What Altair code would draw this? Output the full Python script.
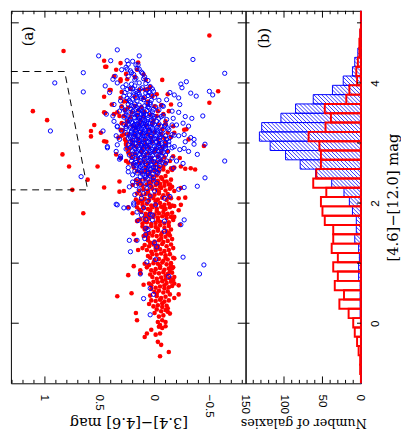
import altair as alt
import pandas as pd

# ---------------- data ----------------
# panel (a): ([3.4]-[4.6], [4.6]-[12.0]) points
blue_core = [
(0.20,4.36),(0.14,4.45),(0.24,4.31),
(0.16,4.24),(0.22,4.20),(0.11,4.16),(0.19,4.14),(0.26,4.26),
(0.09,4.10),(0.17,4.08),(0.24,4.11),(0.14,4.00),(0.06,4.04),(0.21,3.98),
(0.04,3.94),(0.11,3.92),(0.18,3.95),(0.25,3.89),(0.01,3.86),(0.15,3.84),(0.22,3.91),(0.08,3.83),(0.29,3.93),
(0.06,3.79),(0.13,3.77),(0.19,3.80),(0.25,3.74),(0.00,3.76),(0.10,3.72),(0.16,3.70),(0.22,3.68),(0.04,3.67),(0.28,3.78),(0.14,3.81),(-0.04,3.71),(0.20,3.73),(0.07,3.66),(0.31,3.70),
(0.04,3.64),(0.09,3.62),(0.14,3.63),(0.19,3.61),(0.24,3.64),(-0.01,3.60),(0.12,3.58),(0.17,3.56),(0.22,3.57),(0.07,3.54),(0.02,3.52),(0.26,3.52),(0.15,3.51),(0.10,3.50),(0.20,3.53),(-0.04,3.55),(0.30,3.59),(0.05,3.58),(0.13,3.55),(0.18,3.65),(-0.07,3.62),
(0.04,3.49),(0.08,3.47),(0.12,3.48),(0.16,3.46),(0.20,3.49),(0.24,3.45),(0.00,3.44),(0.06,3.42),(0.10,3.43),(0.14,3.41),(0.18,3.42),(0.22,3.40),(-0.04,3.41),(0.28,3.43),(0.03,3.38),(0.09,3.37),(0.13,3.36),(0.17,3.37),(0.21,3.35),(-0.02,3.36),(0.25,3.38),(-0.08,3.46),(0.07,3.35),(0.15,3.45),(0.11,3.39),(-0.11,3.39),
(0.04,3.33),(0.08,3.31),(0.12,3.32),(0.16,3.30),(0.20,3.33),(0.24,3.29),(0.00,3.30),(-0.04,3.32),(0.06,3.27),(0.10,3.26),(0.14,3.28),(0.18,3.25),(0.22,3.26),(0.02,3.24),(-0.02,3.26),(-0.06,3.28),(0.26,3.24),(0.05,3.21),(0.09,3.22),(0.13,3.20),(0.17,3.21),(0.21,3.20),(0.01,3.20),(-0.08,3.22),(-0.12,3.25),(0.28,3.31),(0.11,3.29),(0.15,3.24),(-0.16,3.30),(0.19,3.29),(0.07,3.28),(-0.03,3.21),
(0.05,3.18),(0.09,3.17),(0.13,3.18),(0.17,3.16),(0.21,3.18),(0.25,3.15),(0.01,3.16),(-0.03,3.18),(-0.07,3.15),(0.07,3.13),(0.11,3.12),(0.15,3.13),(0.19,3.11),(0.23,3.12),(0.03,3.11),(-0.01,3.12),(-0.05,3.10),(-0.10,3.12),(0.04,3.07),(0.08,3.06),(0.12,3.08),(0.16,3.06),(0.20,3.05),(0.00,3.07),(-0.04,3.05),(-0.08,3.07),(-0.14,3.09),(0.24,3.08),(0.10,3.15),(0.14,3.04),(0.02,3.04),(-0.18,3.13),(0.18,3.14),
(0.06,3.02),(0.10,3.00),(0.14,3.01),(0.18,2.99),(0.22,3.02),(0.02,3.00),(-0.02,3.02),(-0.06,2.99),(-0.10,3.01),(0.04,2.96),(0.08,2.95),(0.12,2.96),(0.16,2.94),(0.20,2.95),(0.00,2.94),(-0.04,2.96),(-0.08,2.93),(-0.13,2.97),(0.24,2.97),(0.06,2.90),(0.10,2.90),(0.14,2.89),(0.02,2.89),(-0.02,2.91),(0.18,2.91),(-0.16,2.92),(0.26,2.90),(-0.06,2.90),(0.09,2.98),
(0.04,2.87),(0.08,2.85),(0.12,2.86),(0.16,2.84),(0.20,2.87),(0.00,2.85),(-0.04,2.87),(-0.08,2.84),(-0.12,2.86),(0.06,2.80),(0.10,2.79),(0.14,2.81),(0.18,2.78),(0.02,2.79),(-0.02,2.81),(-0.06,2.78),(-0.10,2.80),(0.23,2.80),(0.04,2.74),(0.09,2.73),(0.13,2.75),(0.00,2.74),(-0.05,2.73),(0.17,2.74),
(0.05,2.71),(0.09,2.69),(0.13,2.70),(0.17,2.68),(0.01,2.69),(-0.03,2.71),(-0.07,2.68),(0.21,2.70),(0.07,2.64),(0.11,2.63),(0.15,2.65),(0.03,2.63),(-0.01,2.65),(-0.05,2.62),(0.19,2.62),(-0.10,2.66),(0.04,2.58),(0.09,2.59),(0.14,2.58),(-0.01,2.59),
(0.04,2.56),(0.09,2.54),(0.14,2.55),(0.18,2.53),(0.00,2.54),(-0.04,2.56),(0.06,2.49),(0.11,2.48),(0.16,2.50),(0.02,2.48),(-0.03,2.50),(0.20,2.47),(0.08,2.43),(0.13,2.44),(0.01,2.42),
(0.06,2.40),(0.11,2.38),(0.16,2.39),(0.01,2.37),(0.20,2.35),(0.08,2.32),(0.13,2.31),(-0.02,2.33),(0.04,2.28),(0.17,2.29),
(0.07,2.24),(0.14,2.22),(0.00,2.20),(0.10,2.16),(0.18,2.14),(0.04,2.12),
(0.12,2.08),(0.06,2.03),(0.19,2.00),(-0.01,1.97),
(0.10,1.92),(0.16,1.85),(0.04,1.81),
]
blue_core_fill = [
(0.07,3.88),(0.17,3.86),(0.12,3.74),(0.03,3.71),(0.23,3.71),(0.19,3.84),
(0.12,4.18),(0.18,4.05),(0.08,3.99),(0.21,4.17),(0.13,3.90),(0.02,3.90),(0.27,3.84),(0.09,3.76),
(0.17,3.75),(0.23,3.80),(0.05,3.84),(0.15,4.30),(0.10,4.07),(0.26,3.97),(0.03,3.80),(0.20,3.91),
(0.06,3.60),(0.16,3.59),(0.11,3.53),(0.21,3.62),(0.01,3.56),(0.27,3.55),
(0.02,3.46),(0.10,3.46),(0.18,3.47),(0.26,3.47),(0.06,3.39),(0.15,3.38),(0.23,3.37),(-0.06,3.44),(0.01,3.41),
(0.02,3.32),(0.10,3.33),(0.18,3.31),(0.26,3.27),(0.04,3.26),(0.12,3.24),(0.20,3.23),(-0.02,3.22),(0.08,3.20),(-0.10,3.30),(0.16,3.27),
(0.03,3.14),(0.11,3.16),(0.19,3.16),(-0.05,3.14),(0.06,3.09),(0.14,3.10),(0.22,3.09),(-0.02,3.08),(0.10,3.06),(0.18,3.05),(-0.11,3.06),
(0.04,3.00),(0.12,2.99),(0.20,3.00),(-0.04,2.99),(0.06,2.93),(0.14,2.92),(0.22,2.93),(-0.02,2.94),(-0.10,2.95),(0.10,2.93),
(0.02,2.86),(0.10,2.83),(0.18,2.85),(-0.06,2.86),(0.04,2.78),(0.12,2.77),(0.20,2.76),(-0.04,2.80),(0.07,2.75),
(0.03,2.70),(0.11,2.67),(0.19,2.66),(-0.05,2.69),(0.05,2.61),(0.13,2.61),(0.01,2.60),(0.17,2.63),
(0.06,2.52),(0.12,2.53),(-0.02,2.52),(0.09,2.46),(0.04,2.45),
]
blue_lower = [
(0.15,1.71),(0.08,1.58),(0.23,1.38),(0.22,1.19),(0.16,1.38),(0.09,1.41),(-0.02,1.27),(-0.09,1.53),
(-0.24,1.64),(-0.27,1.72),(-0.26,1.10),(-0.45,0.97),(-0.41,0.82),(0.07,1.02),(-0.01,1.06),(0.13,0.82),
(-0.13,0.78),(0.04,0.58),(0.01,0.48),(0.10,0.41),(0.04,0.14),(0.08,1.48),(0.23,2.27),(0.35,1.98),
(0.28,1.92),(0.24,1.92),(0.19,1.97),(0.08,1.73),(0.02,1.72),(-0.09,1.70),(0.00,1.34),(-0.39,2.28),
(-0.46,2.42),(-0.22,2.23),(-0.14,2.11),(-0.09,2.08),(0.02,1.80),(0.12,1.80),(0.06,1.56),(-0.17,2.58),
]
blue_outer = [
(-0.24,3.98),(-0.29,4.02),(-0.25,3.92),(-0.33,3.83),(-0.38,3.78),(-0.50,3.86),(-0.53,3.80),
(-0.14,3.84),(-0.18,3.80),(-0.22,3.75),(-0.23,3.64),(-0.11,3.72),(-0.08,3.61),(-0.16,3.53),(-0.22,3.51),
(-0.28,3.44),(-0.34,3.41),(-0.44,3.45),(-0.17,3.41),(-0.20,3.30),(-0.26,3.33),(-0.31,3.28),(-0.09,3.28),
(-0.13,3.22),(-0.16,3.14),(-0.22,3.12),(-0.27,3.14),(-0.33,3.09),(-0.36,2.98),(-0.46,2.98),(-0.13,3.02),
(-0.18,2.94),(-0.23,2.89),(-0.31,2.86),(-0.39,2.81),(-0.16,2.75),(-0.20,2.70),(-0.26,2.66),(-0.10,2.91),
(-0.11,2.70),(-0.35,4.39),(-0.64,4.16),(-0.64,2.70),(-0.27,2.26),(-0.36,3.06),(-0.28,3.02),(-0.27,2.91),
(0.38,4.06),(0.34,4.00),(0.45,3.95),(0.41,3.84),(0.37,3.64),(0.32,3.53),(0.44,3.48),(0.34,3.28),
(0.30,3.20),(0.47,3.20),(0.43,2.94),(0.35,2.86),(0.31,2.75),(0.36,4.11),(0.38,3.45),(0.37,3.36),
(0.34,3.27),(0.35,3.12),(0.32,3.06),(0.34,2.97),(0.43,2.92),(0.31,2.78),(0.32,2.73),(0.24,2.59),
(0.24,2.52),(0.34,1.97),
(0.34,4.55),(0.51,4.45),(0.40,4.37),(0.25,4.37),(0.30,4.22),(0.25,4.23),(0.17,4.30),(0.14,4.23),
(0.65,4.17),(0.91,4.00),(0.65,3.85),(0.95,3.20),(0.67,2.44),
]
red_high = [
(-0.16,2.55),(-0.12,2.52),(-0.08,2.56),(-0.04,2.53),(0.00,2.55),(0.04,2.52),(0.08,2.54),(0.12,2.51),(0.16,2.53),(-0.10,2.45),(-0.06,2.43),(-0.02,2.46),(0.02,2.44),(0.06,2.47),
(-0.14,2.70),(-0.10,2.67),(-0.06,2.71),(-0.02,2.68),(0.02,2.70),(0.06,2.66),(0.10,2.69),(0.14,2.67),(0.20,2.65),(-0.08,2.61),(-0.04,2.60),(0.00,2.62),(0.08,2.60),
(-0.12,2.86),(-0.06,2.84),(0.00,2.86),(0.06,2.83),(0.12,2.85),(0.18,2.82),(0.24,2.84),(-0.09,2.76),(-0.03,2.78),(0.03,2.75),(0.09,2.77),(0.15,2.74),(0.21,2.76),
(-0.10,3.01),(-0.04,2.99),(0.02,3.02),(0.08,2.98),(0.14,3.00),(0.20,2.97),(0.26,2.99),(-0.07,2.92),(-0.01,2.90),(0.05,2.93),(0.11,2.91),(0.17,2.94),(0.23,2.90),
(-0.12,3.17),(-0.06,3.15),(0.00,3.18),(0.06,3.14),(0.12,3.16),(0.18,3.13),(0.24,3.15),(0.30,3.12),(-0.09,3.08),(-0.03,3.06),(0.03,3.09),(0.09,3.05),(0.15,3.07),(0.21,3.04),(0.27,3.06),(-0.15,3.10),(0.33,3.09),
(-0.10,3.32),(-0.04,3.30),(0.02,3.33),(0.08,3.29),(0.14,3.31),(0.20,3.28),(0.26,3.30),(-0.07,3.23),(0.05,3.22),(0.17,3.24),(0.29,3.21),
(-0.08,3.48),(-0.02,3.45),(0.04,3.47),(0.10,3.44),(0.16,3.46),(0.22,3.43),(0.28,3.45),(0.01,3.37),(0.13,3.38),(0.25,3.36),
(-0.06,3.63),(0.00,3.61),(0.06,3.64),(0.12,3.60),(0.18,3.62),(0.24,3.59),(0.30,3.61),(-0.03,3.53),(0.09,3.52),(0.15,3.54),(0.21,3.51),(0.27,3.55),
(0.02,3.78),(0.10,3.75),(0.18,3.77),(0.26,3.70),(0.06,3.69),
(0.04,3.93),(0.14,3.88),(0.22,3.90),(0.30,3.85),
(0.08,4.05),(0.18,4.10),(0.26,4.15),
]
red_low = [
(-0.15,2.39),(-0.11,2.36),(-0.07,2.40),(-0.03,2.37),(0.01,2.39),(0.05,2.36),(0.09,2.40),(0.13,2.37),(0.17,2.38),(-0.13,2.31),(-0.09,2.29),(-0.05,2.32),(-0.01,2.30),(0.03,2.28),(0.07,2.31),(0.11,2.29),(0.15,2.32),(-0.03,2.34),(0.05,2.33),(0.20,2.30),
(-0.14,2.24),(-0.10,2.21),(-0.06,2.25),(-0.02,2.22),(0.02,2.24),(0.06,2.21),(0.10,2.23),(0.14,2.20),(-0.12,2.15),(-0.08,2.13),(-0.04,2.16),(0.00,2.14),(0.04,2.12),(0.08,2.15),(0.12,2.13),
(-0.15,2.08),(-0.11,2.05),(-0.07,2.09),(-0.03,2.06),(0.01,2.08),(0.05,2.05),(0.09,2.07),(0.13,2.04),(0.17,2.06),(-0.13,1.99),(-0.09,1.97),(-0.05,2.00),(-0.01,1.98),(0.03,1.96),(0.07,1.99),(0.11,1.97),(0.15,2.00),
(-0.14,1.93),(-0.10,1.90),(-0.06,1.94),(-0.02,1.91),(0.02,1.93),(0.06,1.90),(0.10,1.92),(0.14,1.89),(-0.16,1.84),(-0.12,1.82),(-0.08,1.85),(-0.04,1.83),(0.00,1.81),(0.04,1.84),(0.08,1.82),(0.12,1.85),(-0.02,1.87),
(-0.15,1.77),(-0.11,1.75),(-0.07,1.78),(-0.03,1.76),(0.01,1.77),(0.05,1.74),(0.09,1.76),(0.13,1.73),(-0.13,1.68),(-0.09,1.66),(-0.05,1.69),(-0.01,1.67),(0.03,1.65),(0.07,1.68),(0.11,1.66),(0.16,1.70),
(-0.13,1.62),(-0.09,1.59),(-0.05,1.63),(-0.01,1.60),(0.03,1.62),(0.07,1.59),(0.11,1.61),(-0.11,1.53),(-0.07,1.51),(-0.03,1.54),(0.01,1.52),(0.05,1.50),
(-0.14,1.46),(-0.10,1.44),(-0.06,1.47),(-0.02,1.45),(0.02,1.46),(0.06,1.43),(0.10,1.45),(-0.12,1.37),(-0.08,1.35),(-0.04,1.38),(0.00,1.36),(0.04,1.34),
(-0.15,1.31),(-0.11,1.28),(-0.07,1.32),(-0.03,1.29),(0.01,1.31),(0.05,1.28),(0.09,1.30),(-0.13,1.22),(-0.09,1.20),(-0.05,1.23),(-0.01,1.21),(0.03,1.19),(0.07,1.22),
(-0.14,1.15),(-0.10,1.13),(-0.06,1.16),(-0.02,1.14),(0.02,1.15),(0.06,1.12),(-0.12,1.06),(-0.08,1.04),(-0.04,1.07),(0.00,1.05),
(-0.15,1.00),(-0.11,0.98),(-0.07,1.01),(-0.03,0.99),(0.01,1.00),(0.05,0.97),(0.09,0.99),(-0.13,0.91),(-0.09,0.89),(-0.05,0.92),(-0.01,0.90),(0.03,0.88),
(-0.16,0.84),(-0.12,0.82),(-0.08,0.85),(-0.04,0.83),(0.00,0.84),(0.04,0.81),(-0.14,0.75),(-0.10,0.73),(-0.06,0.76),(-0.02,0.74),
(-0.15,0.69),(-0.11,0.67),(-0.07,0.70),(-0.03,0.68),(0.01,0.69),(0.05,0.66),(-0.13,0.60),(-0.09,0.58),(-0.05,0.61),(-0.01,0.59),(0.03,0.57),
(-0.12,0.53),(-0.08,0.51),(-0.04,0.54),(0.00,0.52),(-0.10,0.44),(-0.06,0.42),(-0.02,0.45),
(-0.13,0.38),(-0.09,0.36),(-0.05,0.39),(-0.01,0.37),(0.03,0.38),(-0.11,0.29),(-0.07,0.27),(-0.03,0.30),(0.01,0.28),
(-0.10,0.22),(-0.06,0.20),(-0.02,0.23),(-0.08,0.13),(-0.04,0.11),
(-0.07,0.05),(-0.03,0.02),(-0.05,-0.03),
]
red_low_fill = [
(-0.09,2.35),(0.03,2.35),(0.13,2.33),(-0.16,2.27),(-0.04,2.19),(0.06,2.18),(0.16,2.16),(-0.13,2.10),
(-0.01,2.03),(0.11,2.02),(-0.16,1.96),(-0.08,1.92),(0.04,1.88),(0.16,1.93),(-0.10,1.80),(0.06,1.79),
(-0.17,1.72),(-0.03,1.72),(0.09,1.70),(-0.15,1.56),(-0.03,1.57),(0.09,1.56),(-0.12,1.49),(0.08,1.48),
(-0.16,1.40),(-0.06,1.41),(0.06,1.38),(-0.01,1.25),(0.11,1.25),(-0.17,1.25),(-0.10,1.09),(0.04,1.09),
(-0.18,1.08),(-0.05,0.95),(0.07,0.93),(-0.17,0.93),(-0.10,0.79),(0.02,0.77),(-0.18,0.77),(-0.09,0.63),
(0.03,0.63),(-0.16,0.62),(-0.14,0.48),(-0.02,0.49),(0.04,0.46),(-0.07,0.33),(0.05,0.32),(-0.12,0.19),
(0.00,0.17),
]
red_outer = [
(-0.50,4.79),(0.83,4.53),(0.46,4.37),(0.45,4.27),(0.31,4.33),(0.35,4.22),(0.15,4.34),(-0.07,4.05),
(0.40,3.88),(0.46,3.77),(-0.58,3.86),(-0.50,3.67),(1.11,3.53),(0.98,3.38),(0.55,3.30),(0.58,3.20),
(0.58,3.11),(0.46,3.03),(0.84,2.81),(0.78,2.61),(0.52,2.61),(0.61,2.39),(0.75,2.22),(0.65,1.83),
(0.46,3.51),(0.34,3.51),(-0.18,2.59),(-0.24,2.61),(-0.28,2.57),(-0.33,2.58),(-0.37,2.56),(-0.45,2.95),
(0.32,2.36),(0.46,2.26),(0.32,2.19),(0.28,2.20),(0.24,1.93),(0.28,3.69),(0.30,3.33),(0.31,3.22),
(0.26,2.97),(0.31,2.75),(0.35,2.81),(0.26,2.70),(0.37,4.11),(0.31,4.03),(0.39,3.64),(-0.12,3.81),
(-0.15,3.64),(-0.02,3.81),(-0.10,3.36),(-0.29,3.23),(-0.22,1.88),(-0.24,1.97),(-0.18,2.20),(-0.14,2.31),
(-0.09,1.92),(-0.03,2.34),
(0.41,3.88),(0.31,3.75),(0.31,4.06),(0.44,4.27),(0.25,4.06),(0.09,3.89),(0.06,3.90),(0.10,4.14),
(0.16,4.22),(0.45,3.50),(0.37,3.48),(0.32,3.45),(0.49,3.17),(0.44,3.02),(0.28,3.14),(0.26,3.02),
(0.25,2.91),(0.22,2.81),(-0.13,3.53),(-0.17,3.28),(-0.18,3.17),(-0.27,3.22),(-0.31,3.06),(-0.10,2.98),
(-0.17,2.78),(-0.23,2.75),(0.24,2.67),(0.19,2.59),
(0.20,1.83),(0.19,1.48),(0.17,1.38),(0.15,1.22),(0.19,0.95),(-0.24,2.25),(-0.22,2.08),(-0.28,2.09),
(-0.18,1.95),(-0.18,1.77),(-0.23,1.64),(-0.13,1.50),(-0.17,1.09),(-0.16,0.91),(-0.15,2.58),(-0.05,2.27),
(0.24,0.80),(0.34,0.45),(0.21,0.50),(0.17,0.17),(0.16,0.05),(0.10,0.64),(0.09,-0.23),(0.07,-0.17),
(0.03,-0.11),(-0.01,-0.19),(-0.05,-0.17),(-0.03,-0.31),(-0.06,-0.36),(-0.05,-0.55),(-0.13,-0.48),(-0.10,0.02),
(-0.10,-0.05),(-0.04,-0.06),(-0.07,-0.08),(-0.14,0.16),(-0.12,0.25),(-0.18,0.42),(-0.22,0.63),(-0.17,0.72),
(-0.14,0.86),(-0.15,0.95),(0.13,0.88),(0.13,0.83),(-0.18,0.66),(-0.22,0.48),
]

# selection box (dashed)
cut_x = [1.31, 0.82, 0.61, 1.31]
cut_y = [4.19, 4.19, 2.22, 2.22]

# panel (b): histograms of [4.6]-[12.0]
bin_lo = [-1.0, -0.845, -0.69, -0.535, -0.38, -0.225, -0.07, 0.085, 0.24, 0.395,
          0.55, 0.705, 0.86, 1.015, 1.17, 1.325, 1.48, 1.635, 1.79, 1.945,
          2.1, 2.255, 2.41, 2.565, 2.72, 2.875, 3.03, 3.185, 3.34, 3.495,
          3.65, 3.805, 3.96, 4.115, 4.27, 4.425, 4.58, 4.735, 4.89, 5.045]
bin_width = 0.155
red_counts = [0, 1, 1, 3, 5, 8, 10, 16, 28, 22,
              34, 30, 36, 30, 38, 36, 36, 47, 50, 52,
              45, 62, 58, 52, 52, 54, 68, 46, 39, 47,
              19, 15, 5, 6, 4, 2, 2, 1, 0, 0]
blue_counts = [0, 0, 0, 0, 0, 0, 0, 1, 1, 1,
               1, 3, 3, 2, 3, 8, 6, 6, 11, 15,
               22, 38, 59, 79, 98, 118, 132, 129, 104, 85,
               62, 37, 23, 11, 8, 4, 1, 1, 0, 0]

# axis tick labels
xa_labels = [1, 0.5, 0, -0.5]
xb_labels = [0, 50, 100, 150]
y_labels = [0, 2, 4]

# ---------------- layout ----------------
X_DOM = [-0.83, 1.31]
Y_DOM = [-1.0, 5.2]
N_DOM = [0, 150]
WA, WB, H = 240, 118, 381
BLUE = '#0000ff'
RED = '#ff0000'
SERIF = 'DejaVu Serif'
SANS = 'Liberation Sans'

xa = alt.Scale(domain=X_DOM, reverse=True, nice=False, zero=False)
ya = alt.Scale(domain=Y_DOM, nice=False, zero=False)
xb = alt.Scale(domain=N_DOM, reverse=True, nice=False, zero=False)

def bottom_axis(values, fmt, title, tsize):
    return alt.Axis(values=values, format=fmt, labelAngle=90, labelAlign='left',
                    labelBaseline='middle', labelFont=SANS, labelFontSize=12,
                    labelColor='black', labelPadding=11, labelFlush=False,
                    labelOverlap=False, ticks=False, tickSize=0, domain=False,
                    grid=False, title=title, titleFont=SERIF, titleFontSize=tsize,
                    titleFontWeight='normal', titleColor='black', titleAngle=180,
                    titleBaseline='middle', titleAlign='center', titleY=40)

# one axis object per channel, shared by every layer so that they merge cleanly
ax_xa = bottom_axis(xa_labels, '.1~f', '[3.4]−[4.6] mag', 15)
ax_xb = bottom_axis(xb_labels, 'd', 'Number of galaxies', 13)
ax_yb = alt.Axis(
    orient='right', values=y_labels, format='d', labelAngle=270, labelAlign='center',
    labelBaseline='top', labelFont=SANS, labelFontSize=12, labelColor='black',
    labelPadding=9, labelFlush=False, ticks=False, tickSize=0, domain=False, grid=False,
    title='[4.6]−[12.0] mag', titleFont=SERIF, titleFontSize=15, titleFontWeight='normal',
    titleColor='black', titleAngle=270, titleBaseline='top', titleAlign='center',
    titleX=25, titleY=H / 2)

blue_df = pd.DataFrame(blue_core + blue_core_fill + blue_lower + blue_outer, columns=['c1', 'c2'])
red_df = pd.DataFrame(red_high + red_low + red_low_fill + red_outer, columns=['c1', 'c2'])
cut_df = pd.DataFrame({'c1': cut_x, 'c2': cut_y, 'i': list(range(len(cut_x)))})

hist_df = pd.DataFrame({'lo': bin_lo, 'red': red_counts, 'blue': blue_counts})
hist_df['hi'] = hist_df['lo'] + bin_width
hist_df['zero'] = 0

def x_ticks(values, length, scale, axis):
    df = pd.DataFrame({'v': values})
    base = alt.Chart(df).mark_rule(color='black', strokeWidth=1)
    enc = alt.X('v:Q', scale=scale, axis=axis)
    return [base.encode(x=enc, y=alt.value(H), y2=alt.value(H - length)),
            base.encode(x=enc, y=alt.value(0), y2=alt.value(length))]

def y_ticks(values, length, width, yaxis):
    df = pd.DataFrame({'v': values})
    base = alt.Chart(df).mark_rule(color='black', strokeWidth=1)
    enc = alt.Y('v:Q', scale=ya, axis=yaxis)
    return [base.encode(y=enc, x=alt.value(0), x2=alt.value(length)),
            base.encode(y=enc, x=alt.value(width), x2=alt.value(width - length))]

# ---------------- panel (a) ----------------
red_layer = alt.Chart(red_df).mark_circle(color=RED, size=22, opacity=1).encode(
    x=alt.X('c1:Q', scale=xa, axis=ax_xa),
    y=alt.Y('c2:Q', scale=ya, axis=None),
)
blue_layer = alt.Chart(blue_df).mark_point(shape='circle', filled=False, color=BLUE,
                                           size=19, strokeWidth=1, opacity=1).encode(
    x=alt.X('c1:Q', scale=xa, axis=ax_xa),
    y=alt.Y('c2:Q', scale=ya, axis=None),
)
cut_layer = alt.Chart(cut_df).mark_line(color='black', strokeWidth=1, strokeDash=[7, 5]).encode(
    x=alt.X('c1:Q', scale=xa, axis=ax_xa),
    y=alt.Y('c2:Q', scale=ya, axis=None),
    order='i:O',
)
lab_a = alt.Chart(pd.DataFrame({'t': ['(a)']})).mark_text(
    angle=270, font=SERIF, fontSize=15, color='black').encode(
    text='t:N', x=alt.value(18), y=alt.value(26))

minor_a = [round(i / 10, 1) for i in range(-8, 14) if i % 5 != 0]
major_a = [-0.5, 0.0, 0.5, 1.0]
int_y = [0, 1, 2, 3, 4, 5]

panel_a = alt.layer(
    red_layer, blue_layer, cut_layer, lab_a,
    *x_ticks(minor_a, 3.5, xa, ax_xa), *x_ticks(major_a, 7, xa, ax_xa),
    *y_ticks(int_y, 8, WA, None),
).properties(width=WA, height=H)

# ---------------- panel (b) ----------------
sx = WB / (N_DOM[1] - N_DOM[0])
sy = H / (Y_DOM[1] - Y_DOM[0])
spacing = 4.0
segs = []
for lo, c in zip(bin_lo, blue_counts):
    if c <= 0:
        continue
    hi = lo + bin_width
    xl, xr = WB - c * sx, WB
    yt, yb = (Y_DOM[1] - hi) * sy, (Y_DOM[1] - lo) * sy
    k = int((xl - yb) // spacing)
    while k * spacing <= xr - yt:
        d = k * spacing
        p1 = max(yt, xl - d)
        p2 = min(yb, xr - d)
        if p2 - p1 > 0.4:
            segs.append({'n1': (WB - (d + p1)) / sx, 'm1': Y_DOM[1] - p1 / sy,
                         'n2': (WB - (d + p2)) / sx, 'm2': Y_DOM[1] - p2 / sy})
        k += 1
hatch_df = pd.DataFrame(segs)

hatch = alt.Chart(hatch_df).mark_rule(color=BLUE, strokeWidth=0.8).encode(
    x=alt.X('n1:Q', scale=xb, axis=ax_xb), x2='n2',
    y=alt.Y('m1:Q', scale=ya, axis=ax_yb), y2='m2')
blue_bars = alt.Chart(hist_df).mark_rect(fillOpacity=0, stroke=BLUE, strokeWidth=1).encode(
    x=alt.X('blue:Q', scale=xb, axis=ax_xb), x2='zero',
    y=alt.Y('lo:Q', scale=ya, axis=ax_yb), y2='hi')
red_bars = alt.Chart(hist_df).mark_rect(fillOpacity=0, stroke=RED, strokeWidth=2).encode(
    x=alt.X('red:Q', scale=xb, axis=ax_xb), x2='zero',
    y=alt.Y('lo:Q', scale=ya, axis=ax_yb), y2='hi')
lab_b = alt.Chart(pd.DataFrame({'t': ['(b)']})).mark_text(
    angle=270, font=SERIF, fontSize=15, color='black').encode(
    text='t:N', x=alt.value(19), y=alt.value(28))

minor_b = [i for i in range(10, 150, 10) if i % 50 != 0]
major_b = [50, 100]

panel_b = alt.layer(
    hatch, blue_bars, red_bars, lab_b,
    *x_ticks(minor_b, 3.5, xb, ax_xb), *x_ticks(major_b, 7, xb, ax_xb),
    *y_ticks(int_y, 4, WB, ax_yb),
).properties(width=WB, height=H)

chart = alt.hconcat(panel_a, panel_b, spacing=0, bounds='flush').properties(
    padding={'left': 0, 'top': -4, 'right': 0, 'bottom': 0}, background='white'
).configure_view(stroke='black', strokeWidth=1)

chart.save("out.html", embed_options={"renderer": "svg", "actions": False})
